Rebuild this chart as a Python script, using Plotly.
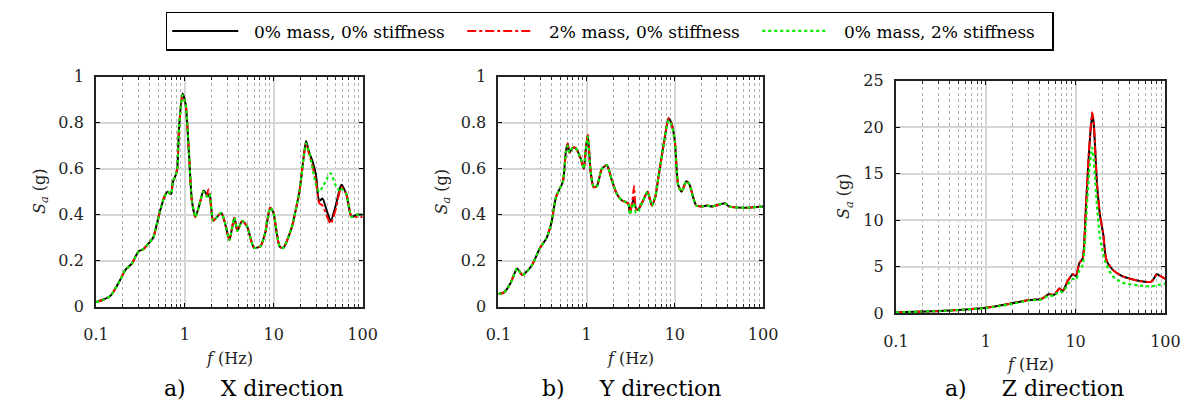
import plotly.graph_objects as go

# ---------------- data ----------------
fx = [0.1, 0.12, 0.146, 0.188, 0.214, 0.253, 0.3, 0.34, 0.4, 0.44, 0.52, 0.59, 0.64, 0.7, 0.73, 0.79,
      0.82, 0.86, 0.94, 1.02, 1.11, 1.2, 1.31, 1.45, 1.62, 1.75, 1.84, 1.9, 2.08, 2.3, 2.57, 2.8, 3.17,
      3.6, 3.9, 4.4, 5.0, 6.0, 7.1, 8.0, 9.1, 9.9, 10.8, 11.7, 12.8, 15.8, 19.5, 21.8, 23.1, 25.1, 27.4,
      29.8, 32.5, 35.4, 40, 43.7, 49.5, 56, 58, 65.5, 72, 75, 85, 100]
x_base = [0.02, 0.03, 0.048, 0.118, 0.16, 0.187, 0.24, 0.25, 0.28, 0.3, 0.41, 0.48, 0.5, 0.49, 0.54, 0.574,
          0.6, 0.78, 0.927, 0.88, 0.67, 0.46, 0.39, 0.44, 0.505, 0.49, 0.48, 0.49, 0.373, 0.39, 0.408, 0.37, 0.29,
          0.387, 0.33, 0.373, 0.35, 0.256, 0.263, 0.32, 0.43, 0.41, 0.32, 0.26, 0.256, 0.34, 0.505, 0.657, 0.72, 0.67, 0.63,
          0.574, 0.46, 0.47, 0.41, 0.373, 0.436, 0.52, 0.53, 0.49, 0.41, 0.39, 0.4, 0.4]
x_mass = [0.02, 0.03, 0.048, 0.118, 0.16, 0.187, 0.24, 0.25, 0.28, 0.3, 0.41, 0.48, 0.5, 0.49, 0.54, 0.574,
          0.6, 0.78, 0.92, 0.88, 0.67, 0.46, 0.39, 0.44, 0.5, 0.48, 0.51, 0.49, 0.373, 0.39, 0.408, 0.37, 0.29,
          0.387, 0.33, 0.373, 0.35, 0.256, 0.263, 0.32, 0.43, 0.41, 0.32, 0.26, 0.256, 0.34, 0.505, 0.657, 0.71, 0.66, 0.61,
          0.55, 0.45, 0.44, 0.39, 0.36, 0.42, 0.51, 0.52, 0.49, 0.41, 0.39, 0.39, 0.39]
x_stiff = [0.02, 0.03, 0.048, 0.118, 0.16, 0.187, 0.24, 0.25, 0.28, 0.3, 0.41, 0.48, 0.5, 0.49, 0.54, 0.574,
           0.6, 0.78, 0.92, 0.88, 0.67, 0.46, 0.39, 0.44, 0.5, 0.48, 0.48, 0.49, 0.373, 0.39, 0.408, 0.37, 0.29,
           0.387, 0.33, 0.373, 0.35, 0.256, 0.263, 0.32, 0.43, 0.41, 0.32, 0.26, 0.256, 0.34, 0.505, 0.657, 0.71, 0.67, 0.6,
           0.53, 0.5, 0.52, 0.56, 0.58, 0.53, 0.5, 0.51, 0.49, 0.41, 0.39, 0.4, 0.4]

fy = [0.1, 0.116, 0.138, 0.163, 0.186, 0.2, 0.24, 0.297, 0.35, 0.4, 0.45, 0.54, 0.58, 0.61, 0.64, 0.69,
      0.75, 0.86, 0.93, 0.97, 1.03, 1.11, 1.2, 1.31, 1.49, 1.7, 1.92, 2.2, 2.5, 2.95, 3.1, 3.3, 3.45, 3.6,
      3.8, 4.3, 4.9, 5.5, 6.0, 6.5, 7.5, 8.5, 9.2, 10, 10.9, 11.9, 13.5, 14.7, 16.1, 17.5, 20.5, 23, 26.5,
      37, 41, 62, 100]
y_base = [0.055, 0.062, 0.104, 0.166, 0.138, 0.145, 0.18, 0.256, 0.297, 0.367, 0.477, 0.546, 0.67, 0.71, 0.67, 0.69,
          0.69, 0.643, 0.6, 0.67, 0.747, 0.588, 0.52, 0.525, 0.6, 0.615, 0.553, 0.49, 0.463, 0.45, 0.408, 0.45, 0.47, 0.43,
          0.42, 0.456, 0.5, 0.44, 0.477, 0.56, 0.71, 0.82, 0.795, 0.72, 0.53, 0.5, 0.546, 0.53, 0.477, 0.44, 0.436, 0.44, 0.436,
          0.45, 0.436, 0.43, 0.436]
y_mass = [0.055, 0.062, 0.104, 0.166, 0.138, 0.145, 0.18, 0.256, 0.297, 0.367, 0.477, 0.546, 0.67, 0.71, 0.67, 0.69,
          0.69, 0.643, 0.6, 0.67, 0.747, 0.588, 0.52, 0.525, 0.6, 0.615, 0.553, 0.49, 0.463, 0.45, 0.408, 0.46, 0.525, 0.43,
          0.42, 0.456, 0.5, 0.44, 0.477, 0.56, 0.71, 0.82, 0.795, 0.72, 0.53, 0.5, 0.546, 0.53, 0.477, 0.44, 0.436, 0.44, 0.436,
          0.45, 0.436, 0.43, 0.436]
y_stiff = [0.055, 0.062, 0.104, 0.166, 0.138, 0.145, 0.18, 0.256, 0.297, 0.367, 0.477, 0.546, 0.67, 0.7, 0.67, 0.69,
           0.69, 0.643, 0.6, 0.67, 0.74, 0.588, 0.52, 0.525, 0.6, 0.615, 0.553, 0.49, 0.463, 0.45, 0.4, 0.44, 0.45, 0.41,
           0.41, 0.456, 0.5, 0.44, 0.477, 0.56, 0.71, 0.81, 0.79, 0.72, 0.53, 0.5, 0.546, 0.53, 0.477, 0.44, 0.436, 0.44, 0.436,
           0.45, 0.436, 0.43, 0.436]

fz = [0.1, 0.34, 1.0, 1.8, 3.0, 4.2, 5.0, 5.8, 6.6, 7.2, 8.2, 9.3, 10.1, 11.0, 12.0, 13.0, 14.1, 15.3,
      15.9, 17.3, 18.7, 20.3, 22.0, 25.8, 33, 50, 70, 80, 88, 100]
z_base = [0.1, 0.27, 0.6, 1.0, 1.43, 1.57, 2.05, 2.0, 2.66, 2.4, 3.5, 4.2, 4.0, 5.4, 5.9, 11.2, 17.3, 21.4,
          20.4, 13.9, 10.5, 8.5, 5.7, 4.7, 4.0, 3.5, 3.4, 4.2, 4.0, 3.7]
z_mass = [0.1, 0.27, 0.6, 1.0, 1.43, 1.57, 2.05, 2.0, 2.66, 2.4, 3.5, 4.2, 4.0, 5.4, 5.9, 11.4, 17.5, 21.6,
          20.6, 14.0, 10.6, 8.6, 5.8, 4.7, 4.0, 3.5, 3.4, 4.2, 4.0, 3.7]
z_stiff = [0.1, 0.27, 0.58, 0.95, 1.38, 1.5, 1.9, 1.9, 2.4, 2.3, 3.1, 3.7, 3.6, 4.6, 5.2, 9.5, 15.0, 17.8,
           16.5, 11.5, 8.0, 6.4, 5.2, 4.0, 3.3, 3.0, 2.9, 3.0, 3.1, 3.2]

series_names = ["0% mass, 0% stiffness", "2% mass, 0% stiffness", "0% mass, 2% stiffness"]
captions = ["a)\u00a0\u00a0\u00a0\u00a0\u00a0X direction", "b)\u00a0\u00a0\u00a0\u00a0\u00a0Y direction",
            "a)\u00a0\u00a0\u00a0\u00a0\u00a0Z direction"]
x_title = "<i>f</i>\u00a0(Hz)"
y_title = "<i>S</i><sub><i>a</i></sub>\u00a0(g)"
x_ticks = [0.1, 1, 10, 100]
x_ticktext = ["0.1", "1", "10", "100"]
minor_vals = [m * d for d in (0.1, 1, 10) for m in range(2, 10)]

# ---------------- figure ----------------
W, H = 1199, 414
FONT = "'DejaVu Serif', serif"
TXT = "#222222"

def px_x(a, b):
    return [a / W, b / W]

def px_y(top, bot):
    return [1 - bot / H, 1 - top / H]

panels = [
    dict(f=fx, s=[x_base, x_mass, x_stiff], xd=px_x(85, 358), yd=px_y(71, 312), yr=[0, 1], dt=0.2,
         ytx=28, cap=247),
    dict(f=fy, s=[y_base, y_mass, y_stiff], xd=px_x(497, 768), yd=px_y(71, 312), yr=[0, 1], dt=0.2,
         ytx=440, cap=633),
    dict(f=fz, s=[z_base, z_mass, z_stiff], xd=px_x(904, 1180), yd=px_y(75, 319), yr=[0, 25], dt=5,
         ytx=852, cap=1046),
]
styles = [
    dict(color="black", width=2, dash="solid"),
    dict(color="#ff0000", width=2, dash="dashdot"),
    dict(color="#00ee00", width=2.2, dash="dot"),
]

fig = go.Figure()
layout = {}
annotations = []
for i, p in enumerate(panels):
    sfx = "" if i == 0 else str(i + 1)
    for k in range(3):
        fig.add_trace(go.Scatter(
            x=p["f"], y=p["s"][k], mode="lines", line=dict(shape="spline", smoothing=0.6, **styles[k]),
            name="\u00a0\u00a0" + series_names[k], showlegend=(i == 0),
            xaxis="x" + sfx, yaxis="y" + sfx))
    layout["xaxis" + sfx] = dict(
        domain=p["xd"], anchor="y" + sfx, type="log", range=[-1, 2],
        tickvals=x_ticks, ticktext=x_ticktext, ticks="inside", ticklen=4, tickcolor="black",
        showline=True, mirror="ticks", linecolor="#222", linewidth=2,
        showgrid=True, gridcolor="#d6d6d6", gridwidth=2,
        minor=dict(tickvals=minor_vals, showgrid=True, gridcolor="#b0b0b0", griddash="dot", gridwidth=1,
                   ticks="inside", ticklen=3, tickcolor="#222"),
        tickfont=dict(family=FONT, size=16, color=TXT), ticklabelstandoff=12,
        zeroline=False,
    )
    layout["yaxis" + sfx] = dict(
        domain=p["yd"], anchor="x" + sfx, range=p["yr"], dtick=p["dt"],
        ticks="inside", ticklen=4, tickcolor="black",
        showline=True, mirror="ticks", linecolor="#222", linewidth=2,
        showgrid=True, gridcolor="#d6d6d6", gridwidth=2,
        tickfont=dict(family=FONT, size=16, color=TXT), ticklabelstandoff=7,
        zeroline=False,
    )
    bottom_px = H * (1 - p["yd"][0])
    mid_y = (p["yd"][0] + p["yd"][1]) / 2
    cx = (p["xd"][0] + p["xd"][1]) / 2
    annotations.append(dict(text=x_title, x=cx, y=1 - (bottom_px + 54) / H, xref="paper", yref="paper",
                            showarrow=False, xanchor="center", yanchor="middle",
                            font=dict(family=FONT, size=16, color=TXT)))
    annotations.append(dict(text=y_title, x=p["ytx"] / W, y=mid_y, xref="paper", yref="paper",
                            showarrow=False, xanchor="center", yanchor="middle", textangle=-90,
                            font=dict(family=FONT, size=16, color=TXT)))
    annotations.append(dict(text=captions[i], x=p["cap"] / W, y=1 - 398 / H, xref="paper", yref="paper",
                            showarrow=False, xanchor="center", yanchor="middle",
                            font=dict(family=FONT, size=22, color="black")))

fig.update_layout(
    width=W, height=H, margin=dict(l=0, r=0, t=0, b=0),
    paper_bgcolor="white", plot_bgcolor="white",
    font=dict(family=FONT),
    annotations=annotations,
    legend=dict(orientation="h", x=611 / W, y=1 - 3 / H, xanchor="center", yanchor="top",
                bordercolor="black", borderwidth=1.5, bgcolor="white",
                font=dict(family=FONT, size=17, color="black"),
                itemwidth=66, entrywidth=214, entrywidthmode="pixels", traceorder="normal"),
    **layout,
)
fig.write_html("out.html")
